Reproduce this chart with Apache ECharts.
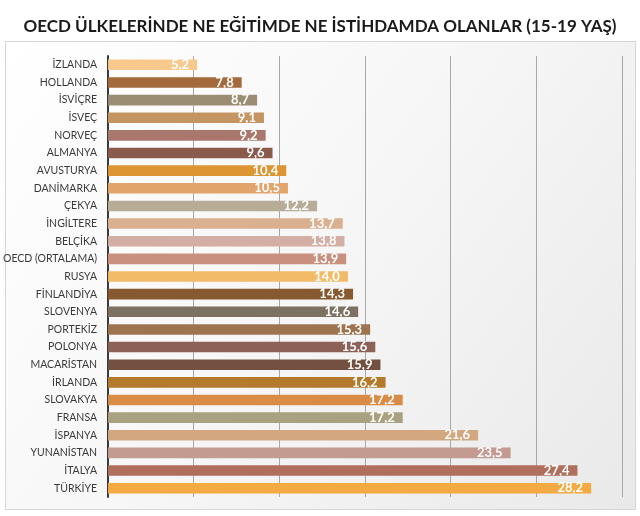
<!DOCTYPE html>
<html>
<head>
<meta charset="utf-8">
<script src="https://cdn.jsdelivr.net/npm/echarts@6/dist/echarts.min.js"></script>
<style>
html,body{margin:0;padding:0;background:#fff;}
#c{width:640px;height:516px;}
</style>
</head>
<body>
<div id="c"></div>
<script>
var categories = ["İZLANDA","HOLLANDA","İSVİÇRE","İSVEÇ","NORVEÇ","ALMANYA","AVUSTURYA","DANİMARKA","ÇEKYA","İNGİLTERE","BELÇİKA","OECD (ORTALAMA)","RUSYA","FİNLANDİYA","SLOVENYA","PORTEKİZ","POLONYA","MACARİSTAN","İRLANDA","SLOVAKYA","FRANSA","İSPANYA","YUNANİSTAN","İTALYA","TÜRKİYE"];
var values = [5.2,7.8,8.7,9.1,9.2,9.6,10.4,10.5,12.2,13.7,13.8,13.9,14.0,14.3,14.6,15.3,15.6,15.9,16.2,17.2,17.2,21.6,23.5,27.4,28.2];
var barColors = ["#f7c98c","#a36b3b","#9b8d73","#c49462","#a9776c","#8a5a4c","#dc9532","#e1a46a","#b7ad97","#d9b090","#d3aea4","#c98f7f","#f2bb68","#87592f","#7d7261","#9e7350","#8b6158","#73503f","#b47a2b","#d98c45","#a9a17f","#d3a880","#c49b90","#b06e5d","#f3aa43"];
var title = "OECD ÜLKELERİNDE NE EĞİTİMDE NE İSTİHDAMDA OLANLAR (15-19 YAŞ)";

var chart = echarts.init(document.getElementById('c'), null, {renderer:'canvas'});
chart.setOption({
  animation:false,
  backgroundColor:'#ffffff',
  graphic:[{
    type:'rect', z:-10, silent:true,
    shape:{x:5.5,y:41.5,width:630,height:468},
    style:{
      fill:{type:'linear',x:0,y:0,x2:1,y2:1,colorStops:[{offset:0,color:'#ffffff'},{offset:0.5,color:'#f6f6f6'},{offset:1,color:'#e9e9e9'}]},
      stroke:'#d6d6d6', lineWidth:1
    }
  }],
  title:{
    text:title, left:'center', top:13,
    textStyle:{fontFamily:'Lato', fontWeight:'bold', fontSize:17, color:'#1a1a1a'}
  },
  grid:{left:103, right:18, top:56, bottom:19, containLabel:false},
  xAxis:{
    type:'value', min:0, max:30, interval:5,
    axisLabel:{show:false}, axisTick:{show:false}, axisLine:{show:false},
    splitLine:{lineStyle:{color:'#a8a8a8', width:1}}
  },
  yAxis:{
    type:'category', data:categories, inverse:true,
    axisTick:{show:false},
    axisLine:{lineStyle:{color:'#3a3a3a', width:2}},
    axisLabel:{fontFamily:'Lato', fontSize:10.5, color:'#3a3a3a', margin:11}
  },
  series:[{
    type:'bar', barWidth:'60%',
    data: values.map(function(v,i){return {value:v, itemStyle:{color:barColors[i]}};}),
    label:{
      show:true, position:'insideRight', distance:8,
      fontFamily:'Lato', fontWeight:'bold', fontSize:13, color:'#ffffff',
      formatter:function(p){return p.value.toFixed(1).replace('.',',');}
    }
  }]
});
</script>
</body>
</html>
